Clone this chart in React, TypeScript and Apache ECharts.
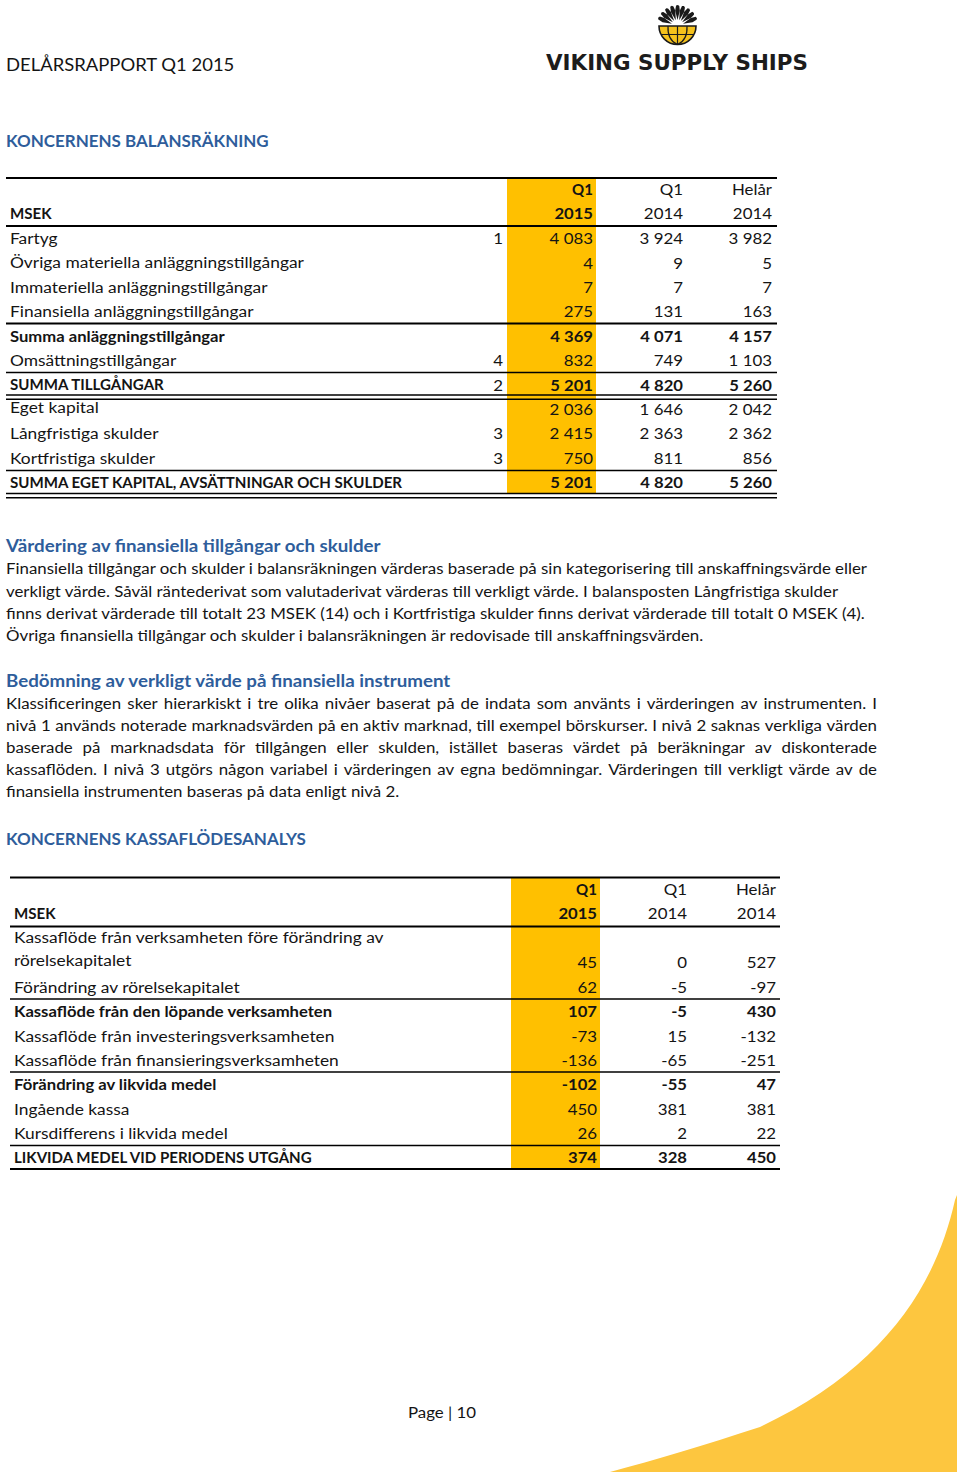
import React, { useEffect, useRef } from 'react';
import * as echarts from 'echarts';

// ---------------- DATA ----------------
const pageTitle = 'DELÅRSRAPPORT Q1 2015';
const brandName = 'VIKING SUPPLY SHIPS';
const balanceTitle = 'KONCERNENS BALANSRÄKNING';
const cashTitle = 'KONCERNENS KASSAFLÖDESANALYS';
const unitLabel = 'MSEK';
const columnHeadTop = ['Q1', 'Q1', 'Helår'];
const columnHeadBottom = ['2015', '2014', '2014'];

const balanceLabels = [
  'Fartyg',
  'Övriga materiella anläggningstillgångar',
  'Immateriella anläggningstillgångar',
  'Finansiella anläggningstillgångar',
  'Summa anläggningstillgångar',
  'Omsättningstillgångar',
  'SUMMA TILLGÅNGAR',
  'Eget kapital',
  'Långfristiga skulder',
  'Kortfristiga skulder',
  'SUMMA EGET KAPITAL, AVSÄTTNINGAR OCH SKULDER',
];
const balanceNotes = ['1', '', '', '', '', '4', '2', '', '3', '3', ''];
const balanceQ1_2015 = [4083, 4, 7, 275, 4369, 832, 5201, 2036, 2415, 750, 5201];
const balanceQ1_2014 = [3924, 9, 7, 131, 4071, 749, 4820, 1646, 2363, 811, 4820];
const balanceFY_2014 = [3982, 5, 7, 163, 4157, 1103, 5260, 2042, 2362, 856, 5260];
const balanceBoldRows = [4, 6, 10];

const cashLabels = [
  'Kassaflöde från verksamheten före förändring av\nrörelsekapitalet',
  'Förändring av rörelsekapitalet',
  'Kassaflöde från den löpande verksamheten',
  'Kassaflöde från investeringsverksamheten',
  'Kassaflöde från finansieringsverksamheten',
  'Förändring av likvida medel',
  'Ingående kassa',
  'Kursdifferens i likvida medel',
  'LIKVIDA MEDEL VID PERIODENS UTGÅNG',
];
const cashQ1_2015 = [45, 62, 107, -73, -136, -102, 450, 26, 374];
const cashQ1_2014 = [0, -5, -5, 15, -65, -55, 381, 2, 328];
const cashFY_2014 = [527, -97, 430, -132, -251, 47, 381, 22, 450];
const cashBoldRows = [2, 5, 8];

const valuationHeading = 'Värdering av finansiella tillgångar och skulder';
const valuationLines = [
  'Finansiella tillgångar och skulder i balansräkningen värderas baserade på sin kategorisering till anskaffningsvärde eller',
  'verkligt värde. Såväl räntederivat som valutaderivat värderas till verkligt värde. I balansposten Långfristiga skulder',
  'finns derivat värderade till totalt 23 MSEK (14) och i Kortfristiga skulder finns derivat värderade till totalt 0 MSEK (4).',
  'Övriga finansiella tillgångar och skulder i balansräkningen är redovisade till anskaffningsvärden.',
];
const fairValueHeading = 'Bedömning av verkligt värde på finansiella instrument';
const fairValueLines = [
  'Klassificeringen sker hierarkiskt i tre olika nivåer baserat på de indata som använts i värderingen av instrumenten. I',
  'nivå 1 används noterade marknadsvärden på en aktiv marknad, till exempel börskurser. I nivå 2 saknas verkliga värden',
  'baserade på marknadsdata för tillgången eller skulden, istället baseras värdet på beräkningar av diskonterade',
  'kassaflöden. I nivå 3 utgörs någon variabel i värderingen av egna bedömningar. Värderingen till verkligt värde av de',
  'finansiella instrumenten baseras på data enligt nivå 2.',
];
const pageFooter = 'Page | 10';

// ---------------- STYLE ----------------
const FONT = 'Lato';
const INK = '#141414';
const BLUE = '#2E5D9B';
const GOLD = '#FFC000';
const SWOOSH = '#FDC63F';
const BODY = 15;
const HEAD = 17;
const HEAD_CAPS = 16.5;

const fmt = (n: number) => {
  const s = Math.abs(n).toString().replace(/\B(?=(\d{3})+(?!\d))/g, ' ');
  return (n < 0 ? '-' : '') + s;
};

const SWOOSH_PATH =
  'M957,1195 L955,1200 C935,1290 880,1370 760,1427 C705,1445 655,1460 610,1472 L957,1472 Z';

export default function App() {
  const ref = useRef<HTMLDivElement>(null);

  useEffect(() => {
    if (!ref.current) return;
    try {
      echarts.graphic.registerShape('swoosh', echarts.graphic.extendPath(SWOOSH_PATH, {}) as any);
    } catch (e) {}

    const cv = document.createElement('canvas').getContext('2d')!;
    const measure = (s: string, size: number, weight: string, family = FONT) => {
      cv.font = `${weight} ${size}px "${family}"`;
      return cv.measureText(s).width;
    };

    const kR = 863 / measure(valuationLines[0], BODY, 'normal');
    const kTL = kR * 1.03; // table labels (slightly looser tracking)
    const kB = 319 / measure(cashLabels[2], BODY, 'bold');
    const kBU = 394 / measure(balanceLabels[10], BODY, 'bold');
    const kH = 446 / measure(fairValueHeading, HEAD, 'bold');
    const kHU = 300 / measure(cashTitle, HEAD_CAPS, 'bold');
    const kT = 229 / measure(pageTitle, 18, 'normal');
    const kL = 262 / measure(brandName, 21, 'bold', 'DejaVu Sans');

    const isCaps = (s: string) => /[A-ZÅÄÖ]/.test(s) && s === s.toUpperCase();

    const els: any[] = [];
    const txt = (
      s: string,
      x: number,
      y: number,
      o: { size?: number; bold?: boolean; color?: string; align?: string; k?: number; family?: string } = {}
    ) => {
      const align = o.align || 'left';
      const k = o.k ?? (o.bold ? (isCaps(s) ? kBU : kB) : kR);
      els.push({
        type: 'text',
        x,
        y,
        scaleX: k,
        z: 10,
        silent: true,
        style: {
          text: s,
          x: 0,
          y: 0,
          fill: o.color || INK,
          fontFamily: o.family || FONT,
          fontSize: o.size || BODY,
          fontWeight: o.bold ? 'bold' : 'normal',
          textAlign: align,
          align,
          textVerticalAlign: 'middle',
          verticalAlign: 'middle',
        },
      });
    };
    const label = (s: string, x: number, y: number, bold: boolean) =>
      txt(s, x, y, bold ? { bold: true } : { k: kTL });
    const hline = (x1: number, x2: number, y: number, w: number) => {
      els.push({ type: 'line', z: 8, silent: true, shape: { x1, y1: y, x2, y2: y }, style: { stroke: '#000', lineWidth: w } });
    };
    const rect = (x: number, y: number, width: number, height: number, fill: string, z = 1) => {
      els.push({ type: 'rect', z, silent: true, shape: { x, y, width, height }, style: { fill } });
    };

    // ---- background swoosh
    els.push({ type: 'swoosh', x: 0, y: 0, z: 0, silent: true, style: { fill: SWOOSH } });

    // ---- header
    txt(pageTitle, 6, 64, { size: 18, k: kT });
    const cx = 677.5, cy = 26;
    const spikes = 9;
    for (let i = 0; i < spikes; i++) {
      const a = ((203 + (i * 134) / (spikes - 1)) * Math.PI) / 180;
      const p = (r: number, ang: number) => [cx + r * Math.cos(ang), cy + r * Math.sin(ang)];
      els.push({
        type: 'polygon',
        z: 6,
        silent: true,
        shape: { points: [p(6, a), p(15.5, a - 0.15), p(20.5, a - 0.07), p(21, a + 0.02), p(20, a + 0.09), p(15.5, a + 0.15)] },
        style: { fill: '#1a1a1a' },
      });
    }
    els.push({
      type: 'sector',
      z: 6,
      silent: true,
      shape: { cx, cy: 26, r: 18.5, r0: 0, startAngle: 0, endAngle: Math.PI, clockwise: true },
      style: { fill: '#F4C11C', stroke: '#1a1a1a', lineWidth: 1.6 },
    });
    els.push({ type: 'line', z: 7, silent: true, shape: { x1: cx - 16.4, y1: 34.5, x2: cx + 16.4, y2: 34.5 }, style: { stroke: '#1a1a1a', lineWidth: 1.2 } });
    els.push({ type: 'line', z: 7, silent: true, shape: { x1: cx, y1: 26, x2: cx, y2: 44.5 }, style: { stroke: '#1a1a1a', lineWidth: 1.2 } });
    [-1, 1].forEach((s) => {
      els.push({
        type: 'bezierCurve',
        z: 7,
        silent: true,
        shape: { x1: cx + s * 9.5, y1: 26, cpx1: cx + s * 10, cpy1: 36, cpx2: cx + s * 6, cpy2: 42, x2: cx, y2: 44.5 },
        style: { stroke: '#1a1a1a', lineWidth: 1.2, fill: 'none' },
      });
    });
    txt(brandName, 546, 63, { size: 21, bold: true, family: 'DejaVu Sans', k: kL, color: '#1c1c1c' });

    // ---- balance sheet
    txt(balanceTitle, 6, 141, { size: HEAD_CAPS, bold: true, color: BLUE, k: kHU });
    {
      const L = 6, R = 777, labelX = 10, noteX = 503;
      const colX = [593, 683, 772];
      rect(507, 178, 89, 315.5, GOLD);
      hline(L, R, 178, 2);
      columnHeadTop.forEach((h, i) => txt(h, colX[i], 189, { align: 'right', bold: i === 0 }));
      txt(unitLabel, labelX, 213, { bold: true });
      columnHeadBottom.forEach((h, i) => txt(h, colX[i], 213, { align: 'right', bold: i === 0 }));
      hline(L, R, 226, 2);
      const rowY = (i: number) => 238 + i * 24.4;
      const cols = [balanceQ1_2015, balanceQ1_2014, balanceFY_2014];
      balanceLabels.forEach((lab, i) => {
        const b = balanceBoldRows.includes(i);
        const y = rowY(i);
        label(lab, labelX, i === 7 ? y - 1.5 : y, b);
        if (balanceNotes[i]) txt(balanceNotes[i], noteX, y, { align: 'right' });
        cols.forEach((c, j) => txt(fmt(c[i]), colX[j], y, { align: 'right', bold: b }));
      });
      hline(L, R, 323.5, 2);
      hline(L, R, 372.5, 1.6);
      hline(L, R, 395, 1.4);
      hline(L, R, 399.2, 1.4);
      hline(L, R, 470.5, 1.6);
      hline(L, R, 493.5, 1.4);
      hline(L, R, 497.7, 1.4);
    }

    // ---- valuation text
    txt(valuationHeading, 6, 545, { size: HEAD, bold: true, color: BLUE, k: kH });
    valuationLines.forEach((l, i) => txt(l, 6, 568 + i * 22.4, {}));

    txt(fairValueHeading, 6, 680, { size: HEAD, bold: true, color: BLUE, k: kH });
    fairValueLines.forEach((line, i) => {
      const y = 703 + i * 22;
      if (i === fairValueLines.length - 1) {
        txt(line, 6, y, {});
        return;
      }
      const words = line.split(' ');
      const widths = words.map((w) => measure(w, BODY, 'normal') * kR);
      const total = widths.reduce((a, b) => a + b, 0);
      const gap = (877 - 6 - total) / (words.length - 1);
      let x = 6;
      words.forEach((w, wi) => {
        txt(w, x, y, {});
        x += widths[wi] + gap;
      });
    });

    // ---- cash flow
    txt(cashTitle, 6, 839, { size: HEAD_CAPS, bold: true, color: BLUE, k: kHU });
    {
      const L = 10, R = 780, labelX = 14;
      const colX = [597, 687, 776];
      rect(511, 877.5, 89, 291, GOLD);
      hline(L, R, 877.5, 2);
      columnHeadTop.forEach((h, i) => txt(h, colX[i], 889, { align: 'right', bold: i === 0 }));
      txt(unitLabel, labelX, 913, { bold: true });
      columnHeadBottom.forEach((h, i) => txt(h, colX[i], 913, { align: 'right', bold: i === 0 }));
      hline(L, R, 926.5, 2);
      const rowY = (i: number) => (i === 0 ? 962 : 987 + (i - 1) * 24.3);
      const cols = [cashQ1_2015, cashQ1_2014, cashFY_2014];
      cashLabels.forEach((lab, i) => {
        const b = cashBoldRows.includes(i);
        const y = rowY(i);
        const parts = lab.split('\n');
        if (parts.length > 1) {
          label(parts[0], labelX, 937, b);
          label(parts[1], labelX, 960, b);
        } else {
          label(lab, labelX, y, b);
        }
        cols.forEach((c, j) => txt(fmt(c[i]), colX[j], y, { align: 'right', bold: b }));
      });
      hline(L, R, 999, 1.6);
      hline(L, R, 1072, 1.6);
      hline(L, R, 1145.5, 1.6);
      hline(L, R, 1169, 2);
    }

    // ---- footer
    txt(pageFooter, 442, 1412, { align: 'center' });

    const chart = echarts.init(ref.current, null, { renderer: 'svg', width: 960, height: 1472 });
    chart.setOption({
      animation: false,
      backgroundColor: '#ffffff',
      graphic: { elements: els },
    });
    return () => chart.dispose();
  }, []);

  return (
    <div
      ref={ref}
      style={{ position: 'absolute', left: 0, top: 0, width: 960, height: 1472, background: '#fff' }}
    />
  );
}
